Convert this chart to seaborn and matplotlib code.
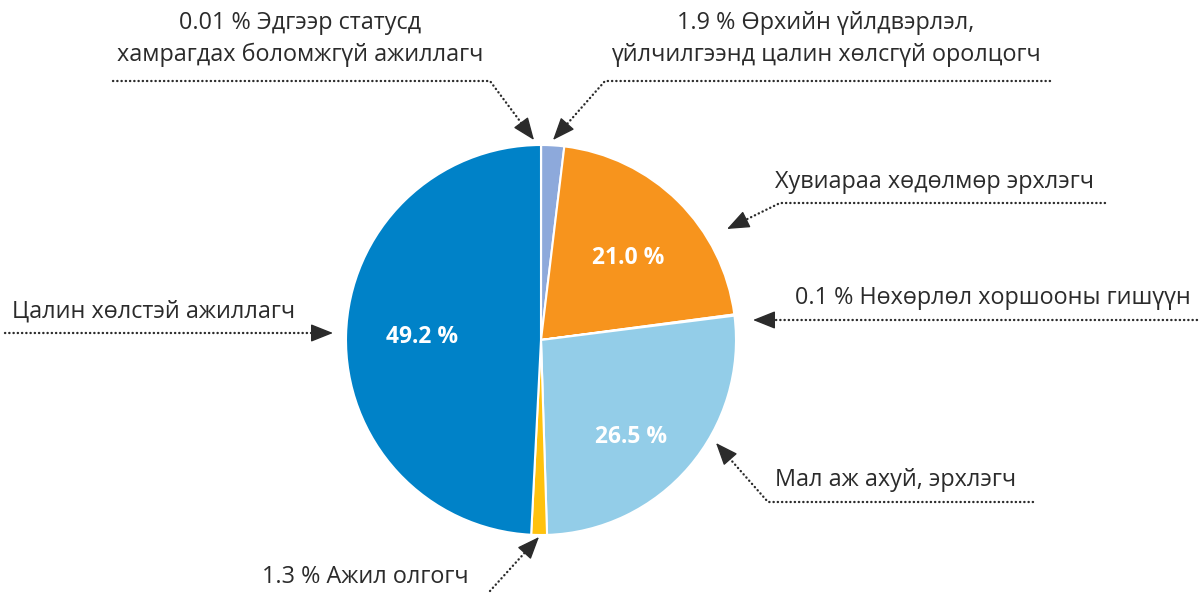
import matplotlib
matplotlib.use("Agg")
import matplotlib.pyplot as plt
import seaborn as sns

# shares of employed population by status (clockwise from top)
values = [0.01, 1.9, 21.0, 0.1, 26.5, 1.3, 49.2]
labels = [
    "0.01 % Эдгээр статусд\nхамрагдах боломжгүй ажиллагч",
    "1.9 % Өрхийн үйлдвэрлэл,\nүйлчилгээнд цалин хөлсгүй оролцогч",
    "Хувиараа хөдөлмөр эрхлэгч",
    "0.1 % Нөхөрлөл хоршооны гишүүн",
    "Мал аж ахуй, эрхлэгч",
    "1.3 % Ажил олгогч",
    "Цалин хөлстэй ажиллагч",
]
colors = ["#9a9a9a", "#8da9db", "#f7941d", "#58595b", "#93cde8", "#ffc20e", "#0082c8"]

# label layout: text position, alignment, leader line points (last = arrow tip)
layout = [
    ((300, 39), "center", [(113, 81), (490, 81), (534, 140)]),
    ((826, 39), "center", [(1050, 81), (605, 81), (553, 140)]),
    ((775, 182), "left", [(1105, 203), (780, 203), (727, 229)]),
    ((795, 298), "left", [(1197, 320), (753, 320)]),
    ((775, 480), "left", [(1033, 502), (768, 502), (716, 443)]),
    ((262, 577), "left", [(490, 591), (539, 537)]),
    ((12, 312), "left", [(5, 333), (333, 333)]),
]
# where the in-slice percentages sit (21.0, 26.5, 49.2)
pct_pos = {2: (628, 258), 4: (631, 437), 6: (422, 337)}

sns.set_theme(style="white")
plt.rcParams["font.family"] = ["Open Sans", "DejaVu Sans"]

fig = plt.figure(figsize=(11.99, 5.94), dpi=100)
ax = fig.add_axes([0, 0, 1, 1])

wedges, texts, autotexts = ax.pie(
    values, colors=colors, startangle=-90, counterclock=True,
    center=(541, 340), radius=195,
    wedgeprops=dict(edgecolor="white", linewidth=1.5),
    autopct=lambda p: f"{p:.1f} %" if p > 5 else "",
    pctdistance=0.63,
    textprops=dict(color="white", fontsize=16.5, fontweight="bold"))
for i, t in enumerate(autotexts):
    if i in pct_pos:
        t.set_position(pct_pos[i])

ink = "#2b2b2b"
for lab, (pos, ha, pts) in zip(labels, layout):
    ax.text(pos[0], pos[1], lab, ha=ha, va="center", fontsize=16.8,
            color=ink, linespacing=1.45, multialignment="center")
    xs = [p[0] for p in pts]
    ys = [p[1] for p in pts]
    (x0, y0), (x1, y1) = pts[-2], pts[-1]
    d = ((x1 - x0) ** 2 + (y1 - y0) ** 2) ** 0.5
    ux, uy = (x1 - x0) / d, (y1 - y0) / d
    bx, by = x1 - ux * 14, y1 - uy * 14
    ax.plot(xs[:-1] + [bx], ys[:-1] + [by], color=ink, lw=1.7,
            linestyle=(0, (0.1, 1.7)), dash_capstyle="round")
    ax.annotate("", xy=(x1, y1), xytext=(bx - ux * 4, by - uy * 4),
                arrowprops=dict(arrowstyle="-|>,head_length=0.7,head_width=0.28",
                                color=ink, lw=1, shrinkA=0, shrinkB=0,
                                mutation_scale=20))

ax.set_xlim(0, 1199)
ax.set_ylim(594, 0)
ax.set_aspect("equal")
ax.axis("off")

fig.savefig("out.png", dpi=100, facecolor="white")
